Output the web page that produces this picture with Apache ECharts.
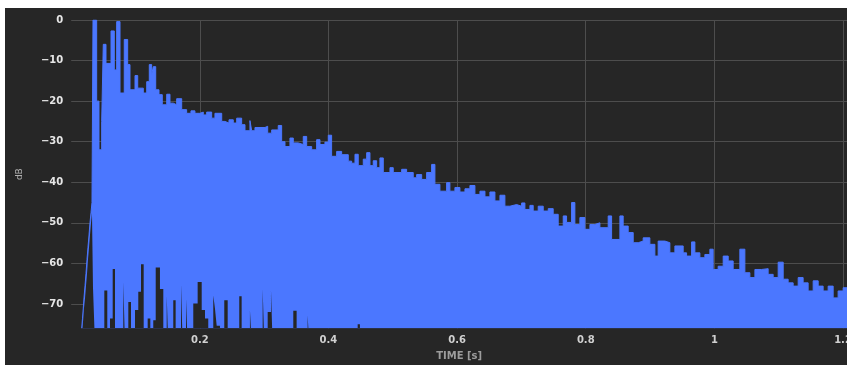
<!DOCTYPE html>
<html>
<head>
<meta charset="utf-8">
<script src="https://cdn.jsdelivr.net/npm/echarts@6/dist/echarts.min.js"></script>
<style>
  html, body { margin: 0; padding: 0; background: #ffffff; width: 847px; height: 365px; overflow: hidden; }
  #chart { position: absolute; left: 5px; top: 8px; width: 842px; height: 357px; }
</style>
</head>
<body>
<div id="chart"></div>
<script>
// Energy decay of an impulse response, level in dB against time in seconds.
// Upper envelope: each entry starts a step that holds until the next one.
const envTime = [
  0.0163, 0.0176, 0.0188, 0.0199, 0.0215, 0.0230, 0.0246, 0.0261, 0.0277, 0.0292,
  0.0308, 0.0323, 0.0339, 0.0396, 0.0432, 0.0474, 0.0499, 0.0541, 0.0619, 0.0670,
  0.0707, 0.0759, 0.0825, 0.0878, 0.0914, 0.0992, 0.1034, 0.1121, 0.1174, 0.1214,
  0.1251, 0.1276, 0.1314, 0.1365, 0.1416, 0.1485, 0.1536, 0.1587, 0.1640, 0.1718,
  0.1795, 0.1862, 0.1924, 0.2002, 0.2054, 0.2106, 0.2184, 0.2235, 0.2340, 0.2391,
  0.2453, 0.2520, 0.2573, 0.2650, 0.2702, 0.2779, 0.2806, 0.2857, 0.3013, 0.3055,
  0.3117, 0.3219, 0.3272, 0.3324, 0.3401, 0.3453, 0.3530, 0.3608, 0.3661, 0.3739,
  0.3816, 0.3868, 0.3945, 0.3997, 0.4049, 0.4127, 0.4205, 0.4308, 0.4360, 0.4412,
  0.4463, 0.4541, 0.4594, 0.4645, 0.4696, 0.4749, 0.4800, 0.4852, 0.4956, 0.5007,
  0.5138, 0.5215, 0.5318, 0.5371, 0.5449, 0.5526, 0.5604, 0.5655, 0.5733, 0.5837,
  0.5888, 0.5966, 0.6044, 0.6122, 0.6199, 0.6277, 0.6355, 0.6433, 0.6510, 0.6588,
  0.6666, 0.6743, 0.6821, 0.6925, 0.7003, 0.7054, 0.7132, 0.7183, 0.7261, 0.7339,
  0.7417, 0.7494, 0.7572, 0.7650, 0.7702, 0.7780, 0.7831, 0.7909, 0.7987, 0.8065,
  0.8142, 0.8220, 0.8349, 0.8402, 0.8531, 0.8582, 0.8660, 0.8738, 0.8816, 0.8893,
  0.8997, 0.9075, 0.9126, 0.9231, 0.9308, 0.9386, 0.9515, 0.9568, 0.9646, 0.9697,
  0.9775, 0.9852, 0.9930, 0.9981, 1.0059, 1.0137, 1.0215, 1.0292, 1.0396, 1.0474,
  1.0552, 1.0630, 1.0734, 1.0836, 1.0914, 1.0992, 1.1070, 1.1147, 1.1225, 1.1303,
  1.1380, 1.1458, 1.1536, 1.1614, 1.1691, 1.1769, 1.1847, 1.1924, 1.2002, 1.2062
];
const envDb = [
  -76, -73.5, -71, -68.5, -65.5, -62.5, -59, -56, -53, -50,
  -47.5, -45, 0, -20, -32, -25, -6, -10.7, -2.7, -12.3,
  -0.4, -18, -4.8, -11, -17.2, -13.7, -16.8, -18, -15.2, -11,
  -13.5, -11.5, -17.2, -18.4, -20.9, -18.3, -20.5, -20.9, -19.4, -22.1,
  -23, -22.4, -23, -22.7, -23.4, -22.7, -24.2, -23, -25, -25.4,
  -24.6, -25.4, -24.2, -25.8, -27.3, -24.8, -27.3, -26.5, -26.2, -27.9,
  -27.1, -26, -30, -31.2, -29.1, -30.3, -30.7, -28.7, -31.2, -32,
  -29.5, -30.7, -30.1, -28.4, -33.6, -32.4, -33.2, -34.8, -35.3, -33.1,
  -35.9, -34.3, -32.7, -35.9, -34.7, -36.4, -34, -37.6, -36.4, -37.6,
  -36.8, -37.6, -38.9, -38.1, -39.3, -37.6, -35.6, -40.5, -42.2, -40.1,
  -42.2, -41.3, -42.4, -41.6, -40.8, -43, -42.2, -43.6, -42.4, -44.6,
  -43.2, -45.9, -45.5, -45.9, -45.1, -46.7, -45.7, -47.1, -45.9, -47.1,
  -46.5, -47.9, -50.8, -48.3, -49.9, -45, -50.4, -48.7, -51.6, -50.4,
  -50, -51.2, -48.3, -54.1, -48.3, -50.8, -52.4, -54.9, -54.5, -53.7,
  -55.3, -58.2, -54.5, -54.9, -57.4, -55.7, -57.4, -58.2, -54.7, -57.4,
  -58.6, -57.8, -56.5, -61.5, -60.7, -58.2, -59.4, -61.5, -56.5, -62.3,
  -63.5, -61.5, -61.3, -62.7, -63.5, -59.7, -63.9, -64.8, -65.6, -63.5,
  -64.8, -66.8, -64.3, -65.6, -66.8, -65.6, -68.5, -66.8, -66, -66
];

// Lower swing of the signal, same step convention; -80 lies beneath the floor.
const lowTime = [
  0.0163, 0.0176, 0.0188, 0.0199, 0.0215, 0.0230, 0.0246, 0.0261, 0.0277, 0.0292,
  0.0308, 0.0323, 0.0339, 0.0370,
  0.0515, 0.0561,
  0.0603, 0.0645, 0.0681,
  0.0810, 0.0836,
  0.0888, 0.0930,
  0.0992, 0.1043, 0.1085, 0.1127,
  0.1189, 0.1230,
  0.1276, 0.1314, 0.1380, 0.1432,
  0.1485, 0.1509,
  0.1587, 0.1624,
  0.1707, 0.1733,
  0.1785, 0.1811,
  0.1898, 0.1966, 0.2029, 0.2080, 0.2131,
  0.2209, 0.2235, 0.2262, 0.2313,
  0.2380, 0.2433,
  0.2613, 0.2650,
  0.2779, 0.2806,
  0.2977, 0.3002,
  0.3055, 0.3106, 0.3132,
  0.3453, 0.3505,
  0.3676, 0.3701,
  0.4454, 0.4489,
  1.2062
];
const lowDb = [
  -80, -76, -73.5, -71, -68.5, -65.5, -62.5, -59, -56, -53,
  -50, -47.5, -66, -80,
  -66.7, -80,
  -73.6, -61.4, -80,
  -64.6, -80,
  -69.5, -80,
  -71.5, -67, -60.2, -80,
  -73.6, -80,
  -74, -61, -66.3, -80,
  -67.9, -80,
  -69.1, -80,
  -65, -80,
  -68.7, -80,
  -69.9, -64.6, -71.5, -73.6, -80,
  -67.9, -71.1, -75.4, -80,
  -69.1, -80,
  -68.1, -80,
  -71.5, -80,
  -66.3, -80,
  -72, -66.5, -80,
  -71.7, -80,
  -72.8, -80,
  -75, -80,
  -80
];

const yTicks = [0, -10, -20, -30, -40, -50, -60, -70];
const xTicks = [0.2, 0.4, 0.6, 0.8, 1, 1.2];

const T_MAX = 1.2062;
const DB_MIN = -76;

const BG = '#262626';
const BLUE = '#4b77ff';
const GRID = '#4d4d4d';
const FONT = 'DejaVu Sans';

const envData = envTime.map((t, i) => [t, envDb[i]]);
const lowData = lowTime.map((t, i) => [t, lowDb[i]]);

const fmtMinus = v => String(v).replace('-', '\u2212');

const chart = echarts.init(document.getElementById('chart'), null, { renderer: 'canvas' });
chart.setOption({
  backgroundColor: BG,
  animation: false,
  grid: { left: 66.2, right: 0, top: 12, bottom: 36.7, containLabel: false, outerBoundsMode: 'none' },
  xAxis: {
    type: 'value',
    min: 0,
    max: T_MAX,
    interval: 0.2,
    name: 'TIME [s]',
    nameLocation: 'middle',
    nameGap: 23,
    nameTextStyle: { color: '#9c9c9c', fontSize: 10, fontWeight: 'bold', fontFamily: FONT },
    axisLine: { show: false },
    axisTick: { show: false },
    axisLabel: {
      showMinLabel: false,
      hideOverlap: false,
      color: '#d0d0d0', fontSize: 10, fontWeight: 'bold', fontFamily: FONT, margin: 7,
      formatter: v => (xTicks.some(t => Math.abs(t - v) < 1e-6) ? String(+v.toFixed(1)) : '')
    },
    splitLine: { show: true, showMinLine: false, showMaxLine: false, lineStyle: { color: GRID, width: 1 } }
  },
  yAxis: {
    type: 'value',
    min: DB_MIN,
    max: 0,
    splitNumber: 8,
    name: 'dB',
    nameLocation: 'middle',
    nameGap: 47,
    nameTextStyle: { color: '#b0b0b0', fontSize: 9, fontFamily: FONT },
    axisLine: { show: false },
    axisTick: { show: false },
    axisLabel: {
      showMinLabel: false,
      color: '#e6e6e6', fontSize: 10, fontWeight: 'bold', fontFamily: FONT, margin: 8,
      formatter: v => (yTicks.indexOf(v) >= 0 ? fmtMinus(v) : '')
    },
    splitLine: { show: true, showMinLine: false, lineStyle: { color: GRID, width: 1 } }
  },
  series: [
    {
      name: 'level',
      type: 'line',
      step: 'end',
      data: envData,
      symbol: 'none',
      clip: true,
      lineStyle: { color: BLUE, width: 1 },
      areaStyle: { color: BLUE, opacity: 1, origin: 'start' },
      z: 2
    },
    {
      name: 'floor',
      type: 'line',
      step: 'end',
      data: lowData,
      symbol: 'none',
      clip: true,
      lineStyle: { opacity: 0, width: 0 },
      areaStyle: { color: BG, opacity: 1, origin: 'start' },
      z: 3
    }
  ]
});
</script>
</body>
</html>
